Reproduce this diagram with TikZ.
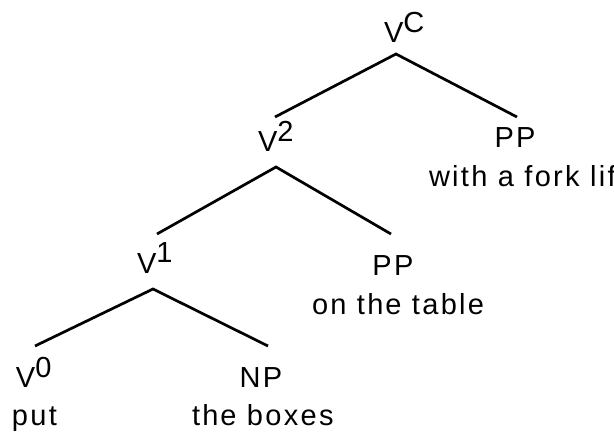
\documentclass[tikz,border=0pt]{standalone}
\usepackage{fontspec}
\setmainfont{Liberation Sans}[LetterSpace=8]
\begin{document}
\begin{tikzpicture}[x=1pt,y=1pt,
  lbl/.style={inner sep=0pt,outer sep=0pt,font=\fontsize{29}{35}\selectfont},
  branch/.style={line width=2.7pt,line cap=butt,line join=miter}]
\useasboundingbox (0,0) rectangle (614,432);
% labels (base anchors; y = 432 - pixel row)
\node[lbl,anchor=base west] (vc) at (384,389) {V\raisebox{10pt}{C}};
\node[lbl,anchor=base west] (v2) at (258,280) {V\raisebox{10pt}{2}};
\node[lbl,anchor=base] (ppa) at (515,284) {PP};
\node[lbl,anchor=base west] (ppat) at (429,245) {with a fork lif};
\node[lbl,anchor=base west] (v1) at (137,159) {V\raisebox{10pt}{1}};
\node[lbl,anchor=base] (ppb) at (393,157) {PP};
\node[lbl,anchor=base west] (ppbt) at (312,118) {on th\kern2pt e table};
\node[lbl,anchor=base west] (v0) at (16,45) {V\raisebox{10pt}{0}};
\node[lbl,anchor=base] (np) at (261,45) {NP};
\node[lbl,anchor=base west] (v0t) at (12,7) {put};
\node[lbl,anchor=base west] (npt) at (192,7) {th\kern2pt e boxes};
% branch points
\coordinate (vcA) at (396,378);
\coordinate (vcL) at (275,315);
\coordinate (vcR) at (517,315);
\coordinate (v2A) at (276,265);
\coordinate (v2L) at (157,198);
\coordinate (v2R) at (391,198);
\coordinate (v1A) at (153,143);
\coordinate (v1L) at (35,86);
\coordinate (v1R) at (268,86);
\draw[branch] (vcL) -- (vcA) -- (vcR);
\draw[branch] (v2L) -- (v2A) -- (v2R);
\draw[branch] (v1L) -- (v1A) -- (v1R);
\end{tikzpicture}
\end{document}
